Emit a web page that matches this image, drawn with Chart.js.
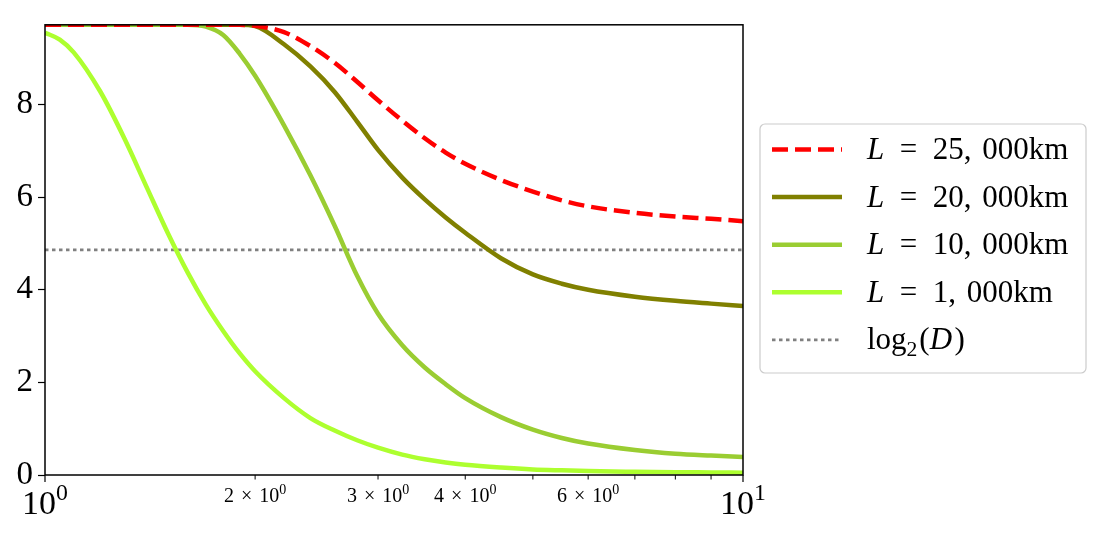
<!DOCTYPE html>
<html>
<head>
<meta charset="utf-8">
<script src="https://cdn.jsdelivr.net/npm/chart.js@4/dist/chart.umd.min.js"></script>
<style>
  html, body { margin: 0; padding: 0; background: #fff; }
  #wrap { width: 1101px; height: 536px; }
</style>
</head>
<body>
<div id="wrap"><canvas id="c" width="1101" height="536"></canvas></div>
<script>
// x positions shared by all curves (log axis, 1..10)
const xs = [1, 1.05, 1.1, 1.2, 1.3, 1.4, 1.5, 1.6, 1.7, 1.8, 1.9, 2, 2.2, 2.4, 2.6, 2.8, 3, 3.25, 3.5, 3.75, 4, 4.5, 5, 5.5, 6, 7, 8, 9, 10];

const L25000 = [9.72, 9.72, 9.72, 9.72, 9.72, 9.72, 9.72, 9.72, 9.72, 9.72, 9.72, 9.70, 9.56, 9.26, 8.90, 8.49, 8.09, 7.65, 7.27, 6.96, 6.72, 6.37, 6.12, 5.93, 5.80, 5.66, 5.58, 5.53, 5.48];
const L20000 = [9.72, 9.72, 9.72, 9.72, 9.72, 9.72, 9.72, 9.72, 9.72, 9.72, 9.72, 9.69, 9.30, 8.82, 8.27, 7.63, 7.02, 6.42, 5.95, 5.56, 5.23, 4.68, 4.33, 4.13, 4.00, 3.85, 3.76, 3.70, 3.65];
const L10000 = [9.72, 9.72, 9.72, 9.72, 9.72, 9.72, 9.72, 9.72, 9.68, 9.50, 9.10, 8.62, 7.55, 6.47, 5.38, 4.30, 3.48, 2.80, 2.32, 1.96, 1.66, 1.25, 0.98, 0.80, 0.68, 0.54, 0.46, 0.42, 0.39];
const L1000  = [9.55, 9.40, 9.12, 8.28, 7.26, 6.20, 5.22, 4.38, 3.68, 3.11, 2.63, 2.24, 1.66, 1.23, 0.96, 0.75, 0.59, 0.44, 0.34, 0.27, 0.22, 0.16, 0.12, 0.10, 0.085, 0.07, 0.06, 0.055, 0.05];
const log2D = 4.86;

const yTicks = [0, 2, 4, 6, 8];
const yMax = 9.72;
const xMajorTicks = [1, 10];
const xMajorExp = ['0', '1'];
const xMinorTicks = [2, 3, 4, 5, 6, 7, 8, 9];
const xMinorLabels = ['2', '3', '4', '', '6', '', '', ''];

const FONT = '"Liberation Serif", "DejaVu Serif", serif';

// legend entries: rich text parts
const lbl = n => [{ t: 'L', it: 1 }, { gap: 0.5 }, { t: '=' }, { gap: 0.5 }, { t: n + ',' }, { gap: 0.35 }, { t: '000km' }];
const legendItems = [
  { color: '#ff0000', dash: [16, 7], width: 4.5, parts: lbl('25') },
  { color: '#808000', dash: [], width: 4.5, parts: lbl('20') },
  { color: '#9acd32', dash: [], width: 4.5, parts: lbl('10') },
  { color: '#adff2f', dash: [], width: 4.5, parts: lbl('1') },
  { color: '#808080', dash: [3.5, 3.5], width: 2.8, parts: [{ t: 'log' }, { t: '2', sub: 1 }, { gap: 0.06 }, { t: '(' }, { t: 'D', it: 1 }, { gap: 0.08 }, { t: ')' }] }
];

function pts(arr) { return xs.map((x, i) => ({ x: x, y: arr[i] })); }

// draws (or just measures) a run of text with italic / sup / sub parts
function rich(ctx, parts, x, yBase, size, draw) {
  let cx = x;
  parts.forEach(p => {
    if (p.gap) { cx += p.gap * size; return; }
    const s = (p.sup || p.sub) ? size * 0.7 : size;
    ctx.font = (p.it ? 'italic ' : '') + s + 'px ' + FONT;
    const dy = p.sup ? -size * 0.4 : (p.sub ? size * 0.22 : 0);
    if (draw) ctx.fillText(p.t, cx, yBase + dy);
    cx += ctx.measureText(p.t).width;
  });
  return cx - x;
}

const decor = {
  id: 'decor',
  afterDraw(chart) {
    const { ctx, chartArea: a, scales: { x } } = chart;
    ctx.save();
    // frame
    ctx.strokeStyle = '#000';
    ctx.lineWidth = 1.5;
    ctx.strokeRect(a.left, a.top, a.right - a.left, a.bottom - a.top);

    // x ticks and labels
    ctx.fillStyle = '#000';
    ctx.textBaseline = 'alphabetic';
    ctx.textAlign = 'left';
    ctx.lineWidth = 1.2;
    xMajorTicks.forEach((v, i) => {
      const px = x.getPixelForValue(v);
      ctx.beginPath(); ctx.moveTo(px, a.bottom); ctx.lineTo(px, a.bottom + 7); ctx.stroke();
      const parts = [{ t: '10' }, { t: xMajorExp[i], sup: 1 }];
      const w = rich(ctx, parts, 0, 0, 34, false);
      rich(ctx, parts, px - w / 2, a.bottom + 39, 34, true);
    });
    ctx.lineWidth = 1;
    xMinorTicks.forEach((v, i) => {
      const px = x.getPixelForValue(v);
      ctx.beginPath(); ctx.moveTo(px, a.bottom); ctx.lineTo(px, a.bottom + 4.5); ctx.stroke();
      if (!xMinorLabels[i]) return;
      const parts = [{ t: xMinorLabels[i] }, { gap: 0.35 }, { t: '×' }, { gap: 0.35 }, { t: '10' }, { t: '0', sup: 1 }];
      const w = rich(ctx, parts, 0, 0, 20, false);
      rich(ctx, parts, px - w / 2, a.bottom + 27, 20, true);
    });

    // legend
    const bx = 760, by = 124, bw = 326, bh = 249;
    ctx.beginPath();
    ctx.roundRect(bx, by, bw, bh, 5);
    ctx.fillStyle = '#fff';
    ctx.fill();
    ctx.strokeStyle = '#cccccc';
    ctx.lineWidth = 1.2;
    ctx.stroke();
    legendItems.forEach((it, i) => {
      const cy = 149.5 + i * 47.6;
      ctx.beginPath();
      ctx.setLineDash(it.dash);
      ctx.strokeStyle = it.color;
      ctx.lineWidth = it.width;
      ctx.moveTo(772, cy); ctx.lineTo(842, cy);
      ctx.stroke();
      ctx.setLineDash([]);
      ctx.fillStyle = '#000';
      rich(ctx, it.parts, 867, cy + 9.5, 31, true);
    });
    ctx.restore();
  }
};

function line(data, color, dash, width, order) {
  return {
    data: data, borderColor: color, borderDash: dash, borderWidth: width,
    pointRadius: 0, fill: false, cubicInterpolationMode: 'monotone', clip: 0, order: order
  };
}

new Chart(document.getElementById('c'), {
  type: 'line',
  data: {
    datasets: [
      line(pts(L25000), '#ff0000', [16, 7], 4.5, 0),
      line(pts(L20000), '#808000', [], 4.5, 2),
      line(pts(L10000), '#9acd32', [], 4.5, 1),
      line(pts(L1000), '#adff2f', [], 4.5, 1),
      line([{ x: 1, y: log2D }, { x: 10, y: log2D }], '#808080', [3.5, 3.5], 2.8, 3)
    ]
  },
  options: {
    responsive: false,
    animation: false,
    events: [],
    layout: { padding: { top: 22, right: 358, left: 0, bottom: 0 } },
    plugins: { legend: { display: false }, tooltip: { enabled: false } },
    scales: {
      x: {
        type: 'logarithmic', min: 1, max: 10,
        grid: { display: false }, border: { display: false },
        ticks: { display: false },
        afterFit: s => { s.height = 61; }
      },
      y: {
        min: 0, max: yMax,
        afterBuildTicks: s => { s.ticks = yTicks.map(v => ({ value: v })); },
        grid: { drawOnChartArea: false, drawTicks: true, tickLength: 7, tickColor: '#000', tickWidth: 1.2 },
        border: { display: false },
        ticks: { color: '#000', padding: 5, font: { family: FONT, size: 33 } },
        afterFit: s => { s.width = 45; }
      }
    }
  },
  plugins: [decor]
});
</script>
</body>
</html>
